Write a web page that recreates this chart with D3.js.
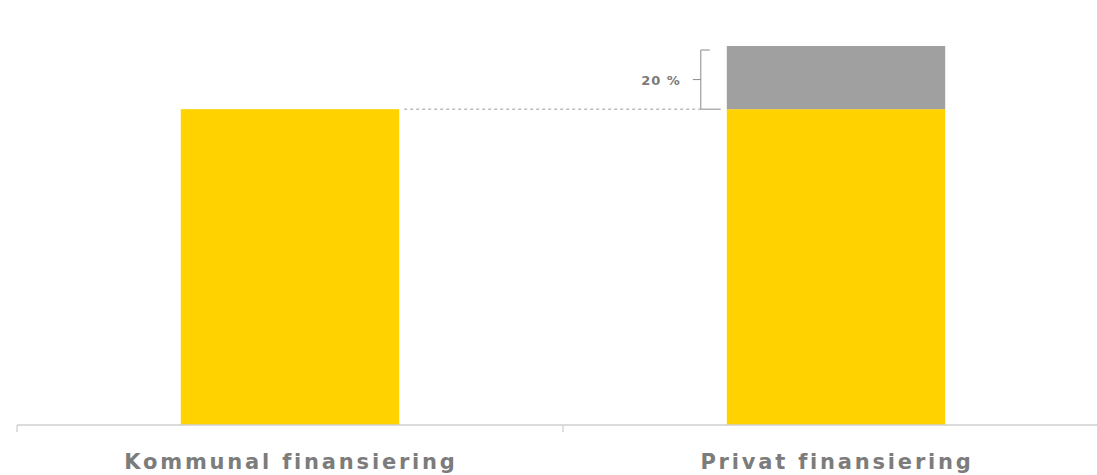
<!DOCTYPE html>
<html>
<head>
<meta charset="utf-8">
<script src="https://cdn.jsdelivr.net/npm/d3@7"></script>
<style>
  body { margin: 0; background: #fff; }
  svg text { font-family: "DejaVu Sans", sans-serif; }
</style>
</head>
<body>
<div id="chart"></div>
<script>
// data
var categories = ["Kommunal finansiering", "Privat finansiering"]
var baseValues = [100, 100]
var extraValues = [0, 20]
var extraLabel = "20 %"

var width = 1097, height = 475

var svg = d3.select("#chart")
    .append("svg")
    .attr("width", width)
    .attr("height", height)

// x: one band per category, ticks at the band edges
var x_scale = d3.scaleBand()
    .domain(categories)
    .range([17, 1109])
    .padding(0)

var barInset = x_scale.step() * 0.3
var barWidth = x_scale.step() * 0.4

// y
var y_scale = d3.scaleLinear()
    .domain([0, 120])
    .range([425, 46])

var rows = categories.map(function (c, i) {
    return { cat: c, base: baseValues[i], extra: extraValues[i] }
})

// base bars (yellow)
svg.append("g").selectAll("rect.base")
    .data(rows)
    .enter()
    .append("rect")
    .attr("class", "base")
    .attr("x", d => x_scale(d.cat) + barInset)
    .attr("width", barWidth)
    .attr("y", d => y_scale(d.base))
    .attr("height", d => y_scale(0) - y_scale(d.base))
    .attr("fill", "#ffd200")

// extra part (grey)
svg.append("g").selectAll("rect.extra")
    .data(rows.filter(d => d.extra > 0))
    .enter()
    .append("rect")
    .attr("class", "extra")
    .attr("x", d => x_scale(d.cat) + barInset)
    .attr("width", barWidth)
    .attr("y", d => y_scale(d.base + d.extra))
    .attr("height", d => y_scale(d.base) - y_scale(d.base + d.extra))
    .attr("fill", "#a0a0a0")

// x axis: line with ticks at band edges
var edges = categories.map(d => x_scale(d)).concat([x_scale.range()[1]])
var axis = svg.append("g").attr("class", "axis")
axis.append("line")
    .attr("x1", x_scale.range()[0]).attr("x2", x_scale.range()[1])
    .attr("y1", y_scale(0)).attr("y2", y_scale(0))
    .attr("stroke", "#cfcfcf")
    .attr("stroke-width", 1.5)
axis.selectAll("line.tick")
    .data(edges)
    .enter()
    .append("line")
    .attr("class", "tick")
    .attr("x1", d => d).attr("x2", d => d)
    .attr("y1", y_scale(0)).attr("y2", y_scale(0) + 7)
    .attr("stroke", "#d6d6d6")
    .attr("stroke-width", 1.5)

axis.selectAll("text")
    .data(categories)
    .enter()
    .append("text")
    .attr("x", d => x_scale(d) + x_scale.bandwidth() / 2 + 1)
    .attr("y", 469)
    .attr("text-anchor", "middle")
    .attr("fill", "#7c7c7c")
    .style("font-size", "21px")
    .style("font-weight", "bold")
    .style("letter-spacing", "2.8px")
    .text(d => d)

// dashed guide from first bar top to the brace
var second = rows[1]
var braceX = x_scale(second.cat) + barInset - 26
var yLow = y_scale(second.base)
var yHigh = y_scale(second.base + second.extra) + 4

svg.append("line")
    .attr("x1", x_scale(rows[0].cat) + barInset + barWidth + 5)
    .attr("x2", braceX)
    .attr("y1", yLow).attr("y2", yLow)
    .attr("stroke", "#9a9a9a")
    .attr("stroke-width", 1)
    .attr("stroke-dasharray", "3,3")

// brace
var brace = svg.append("g").attr("stroke", "#8a8a8a").attr("stroke-width", 1).attr("fill", "none")
brace.append("path")
    .attr("d", "M" + (braceX + 20) + "," + yLow + "H" + braceX + "V" + yHigh + "H" + (braceX + 9))
brace.append("line")
    .attr("x1", braceX - 8).attr("x2", braceX)
    .attr("y1", (yLow + yHigh) / 2).attr("y2", (yLow + yHigh) / 2)

svg.append("text")
    .attr("x", braceX - 20)
    .attr("y", (yLow + yHigh) / 2 + 5)
    .attr("text-anchor", "end")
    .attr("fill", "#7a7a7a")
    .style("font-size", "13px")
    .style("font-weight", "bold")
    .style("letter-spacing", "1px")
    .text(extraLabel)
</script>
</body>
</html>
